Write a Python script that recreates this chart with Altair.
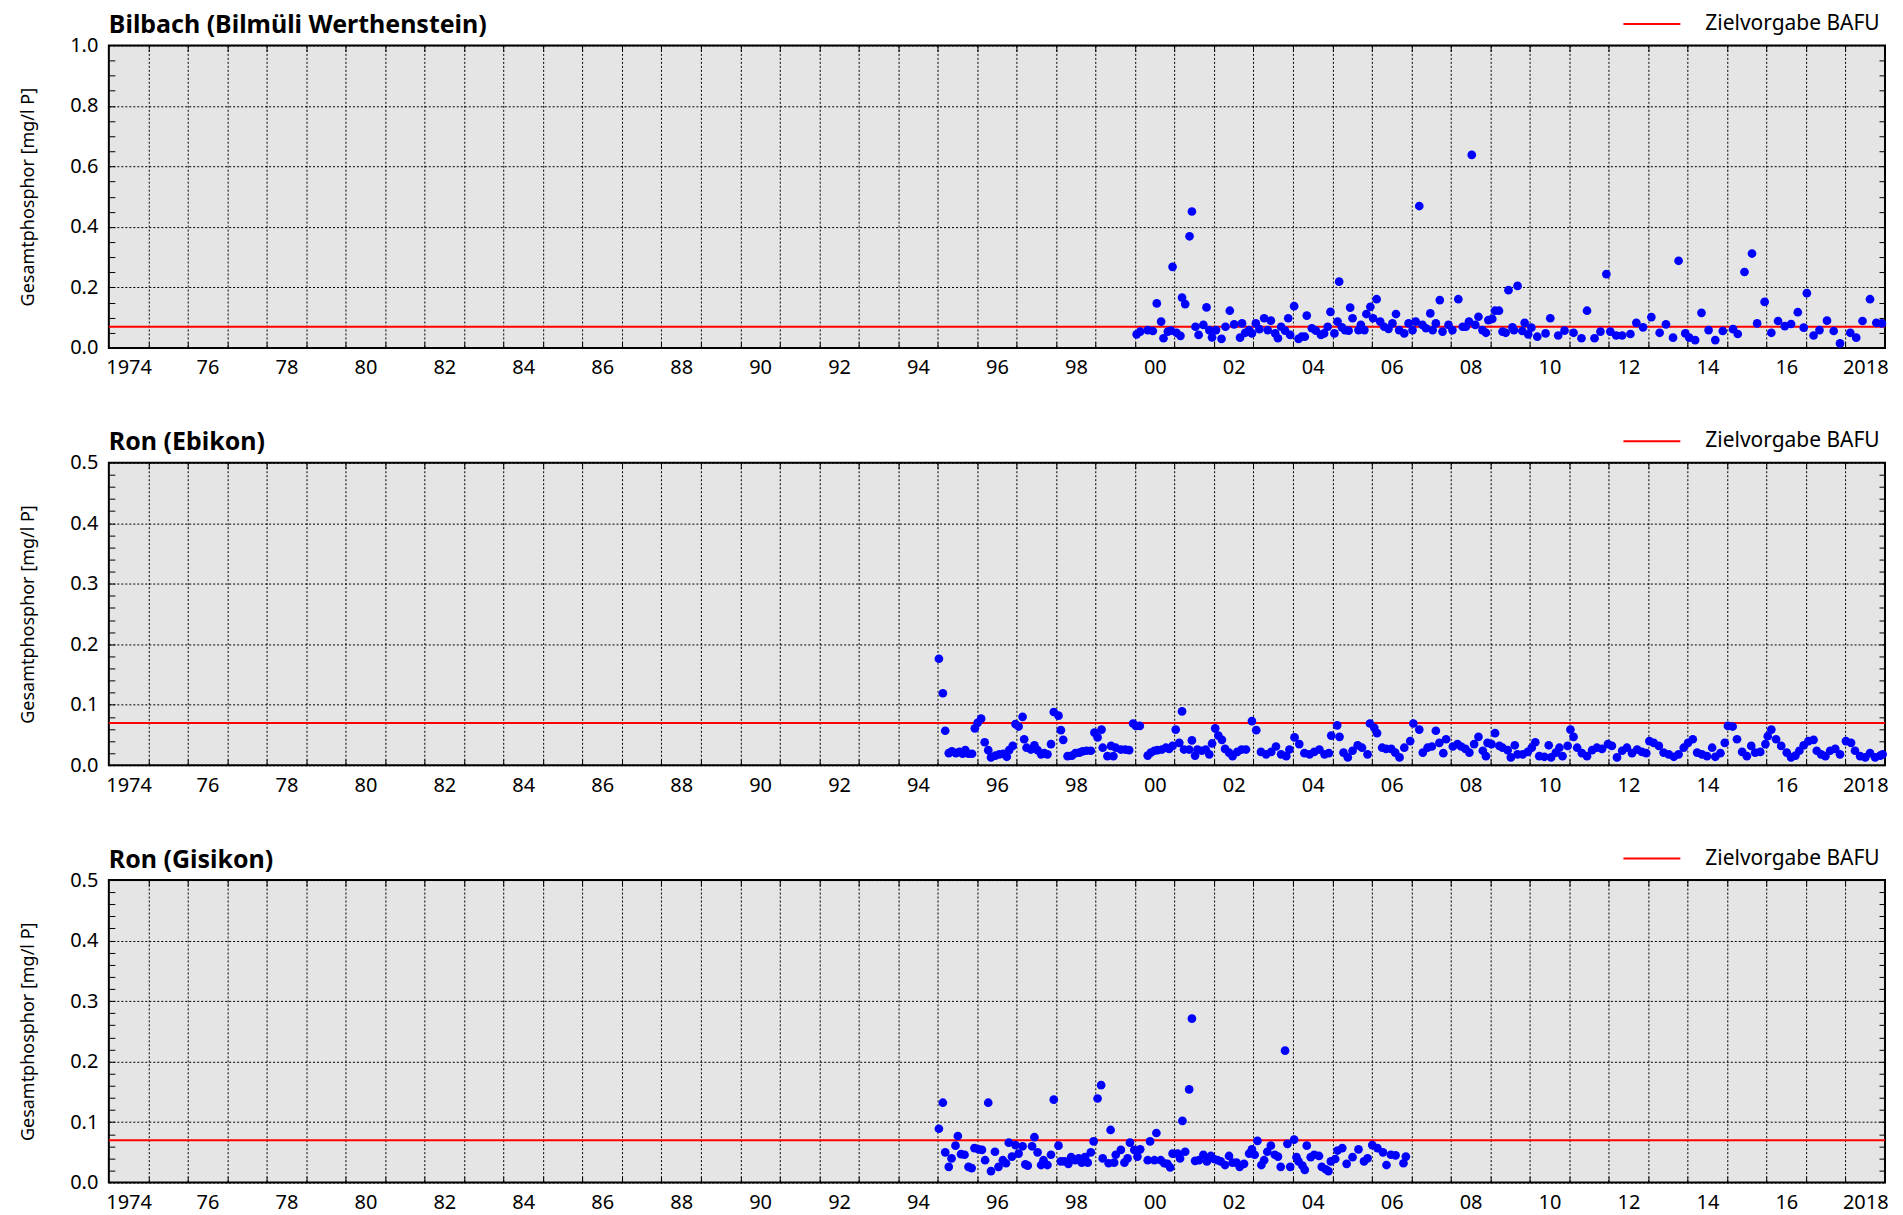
import altair as alt
import pandas as pd

FONT = "Noto Sans"
W, H = 1779, 303

x_start, x_end = 1974, 2019
year_lines = list(range(1975, 2019))
label_years = [y + 0.5 for y in range(1974, 2019, 2)]

target_value = 0.07
target_label = "Zielvorgabe BAFU"
y_title = "Gesamtphosphor [mg/l P]"

titles = ["Bilbach (Bilmüli Werthenstein)", "Ron (Ebikon)", "Ron (Gisikon)"]

# ---------------- Bilbach (Bilmüli Werthenstein) ----------------
bil_year = [
    2000.04, 2000.13, 2000.32, 2000.45, 2000.55, 2000.66, 2000.72, 2000.83, 2000.91, 2000.95,
    2001.05, 2001.15, 2001.19, 2001.27, 2001.38, 2001.44, 2001.53, 2001.61, 2001.73, 2001.81, 2001.88, 2001.95,
    2002.05, 2002.19, 2002.29, 2002.40, 2002.51, 2002.66, 2002.71, 2002.79, 2002.89, 2002.96,
    2003.06, 2003.15, 2003.27, 2003.36, 2003.44, 2003.55, 2003.62, 2003.70, 2003.80, 2003.88, 2003.93,
    2004.03, 2004.14, 2004.22, 2004.30, 2004.35, 2004.48, 2004.58, 2004.71, 2004.79, 2004.88, 2004.95,
    2005.05, 2005.13, 2005.17, 2005.24, 2005.32, 2005.41, 2005.45, 2005.51, 2005.66, 2005.72, 2005.81, 2005.86, 2005.96,
    2006.03, 2006.12, 2006.21, 2006.31, 2006.42, 2006.52, 2006.61, 2006.69, 2006.82, 2006.93,
    2007.03, 2007.11, 2007.20, 2007.28, 2007.37, 2007.48, 2007.54, 2007.62, 2007.72, 2007.79, 2007.94,
    2008.04, 2008.19, 2008.30, 2008.38, 2008.46, 2008.53, 2008.62, 2008.70, 2008.80, 2008.89, 2008.95,
    2009.05, 2009.12, 2009.22, 2009.31, 2009.39, 2009.46, 2009.56, 2009.60, 2009.69, 2009.81, 2009.87, 2009.96,
    2010.04, 2010.19, 2010.40, 2010.52, 2010.72, 2010.88,
    2011.11, 2011.31, 2011.45, 2011.64, 2011.79, 2011.94,
    2012.04, 2012.19, 2012.34, 2012.55, 2012.70, 2012.87,
    2013.08, 2013.29, 2013.45, 2013.63, 2013.77, 2013.94,
    2014.04, 2014.19, 2014.35, 2014.53, 2014.70, 2014.89,
    2015.15, 2015.27, 2015.44, 2015.63, 2015.76, 2015.95,
    2016.12, 2016.29, 2016.46, 2016.62, 2016.79, 2016.94,
    2017.02, 2017.19, 2017.34, 2017.53, 2017.70, 2017.86,
    2018.12, 2018.27, 2018.43, 2018.62, 2018.78, 2018.92,
]
bil_tp = [
    0.045, 0.054, 0.059, 0.056, 0.147, 0.087, 0.032, 0.054, 0.057, 0.268,
    0.050, 0.040, 0.166, 0.145, 0.369, 0.451, 0.070, 0.043, 0.076, 0.134, 0.059, 0.035,
    0.059, 0.030, 0.070, 0.123, 0.078, 0.034, 0.081, 0.050, 0.059, 0.048,
    0.081, 0.062, 0.098, 0.059, 0.090, 0.048, 0.032, 0.070, 0.057, 0.098, 0.043,
    0.138, 0.030, 0.037, 0.037, 0.107, 0.065, 0.057, 0.043, 0.048, 0.070, 0.119,
    0.048, 0.087, 0.219, 0.068, 0.059, 0.057, 0.133, 0.098, 0.059, 0.076, 0.059, 0.112, 0.136,
    0.098, 0.161, 0.087, 0.070, 0.063, 0.081, 0.112, 0.059, 0.048, 0.081,
    0.059, 0.087, 0.469, 0.076, 0.065, 0.114, 0.059, 0.081, 0.158, 0.054, 0.076,
    0.059, 0.161, 0.070, 0.070, 0.087, 0.638, 0.076, 0.103, 0.059, 0.050, 0.092,
    0.096, 0.123, 0.123, 0.054, 0.050, 0.191, 0.068, 0.059, 0.205, 0.056, 0.083, 0.045,
    0.067, 0.037, 0.048, 0.098, 0.041, 0.057,
    0.050, 0.032, 0.123, 0.032, 0.054, 0.244,
    0.054, 0.041, 0.041, 0.046, 0.083, 0.068,
    0.102, 0.050, 0.078, 0.034, 0.288, 0.048,
    0.034, 0.026, 0.116, 0.059, 0.026, 0.056,
    0.062, 0.046, 0.251, 0.312, 0.081, 0.152,
    0.050, 0.089, 0.072, 0.079, 0.118, 0.067,
    0.181, 0.041, 0.059, 0.090, 0.056, 0.015,
    0.050, 0.034, 0.089, 0.161, 0.083, 0.081,
]

# ---------------- Ron (Ebikon) ----------------
ebi_year = [
    1995.03, 1995.13, 1995.19, 1995.28, 1995.36, 1995.46, 1995.55, 1995.63, 1995.70, 1995.78, 1995.87, 1995.94,
    1996.01, 1996.10, 1996.19, 1996.28, 1996.35, 1996.46, 1996.56, 1996.66, 1996.75, 1996.81, 1996.90, 1996.97,
    1997.05, 1997.15, 1997.19, 1997.25, 1997.36, 1997.45, 1997.53, 1997.62, 1997.70, 1997.78, 1997.87, 1997.94,
    1998.06, 1998.12, 1998.18, 1998.29, 1998.40, 1998.49, 1998.59, 1998.67, 1998.77, 1998.88, 1998.97,
    1999.05, 1999.15, 1999.18, 1999.30, 1999.39, 1999.45, 1999.51, 1999.64, 1999.75, 1999.85, 1999.95,
    2000.02, 2000.12, 2000.32, 2000.40, 2000.49, 2000.57, 2000.68, 2000.78, 2000.86, 2000.95,
    2001.03, 2001.12, 2001.19, 2001.24, 2001.37, 2001.44, 2001.52, 2001.58, 2001.69, 2001.79, 2001.88, 2001.95,
    2002.03, 2002.11, 2002.20, 2002.28, 2002.38, 2002.47, 2002.59, 2002.70, 2002.81, 2002.96,
    2003.07, 2003.19, 2003.32, 2003.45, 2003.57, 2003.70, 2003.83, 2003.91,
    2004.04, 2004.16, 2004.29, 2004.42, 2004.54, 2004.67, 2004.80, 2004.91, 2004.97,
    2005.12, 2005.18, 2005.28, 2005.39, 2005.51, 2005.64, 2005.75, 2005.89, 2005.95,
    2006.06, 2006.13, 2006.26, 2006.36, 2006.49, 2006.59, 2006.70, 2006.82, 2006.97,
    2007.05, 2007.20, 2007.29, 2007.41, 2007.52, 2007.62, 2007.71, 2007.81, 2007.88,
    2008.05, 2008.17, 2008.26, 2008.37, 2008.47, 2008.59, 2008.70, 2008.81, 2008.89, 2008.93,
    2009.03, 2009.12, 2009.23, 2009.31, 2009.44, 2009.52, 2009.62, 2009.69, 2009.82, 2009.95,
    2010.05, 2010.14, 2010.24, 2010.37, 2010.48, 2010.54, 2010.66, 2010.75, 2010.83, 2010.96,
    2011.03, 2011.11, 2011.20, 2011.32, 2011.45, 2011.58, 2011.70, 2011.83, 2011.98,
    2012.08, 2012.21, 2012.34, 2012.46, 2012.59, 2012.72, 2012.84, 2012.95,
    2013.03, 2013.14, 2013.27, 2013.39, 2013.52, 2013.65, 2013.77, 2013.90,
    2014.01, 2014.13, 2014.24, 2014.36, 2014.49, 2014.62, 2014.70, 2014.83, 2014.94,
    2015.02, 2015.14, 2015.25, 2015.38, 2015.50, 2015.61, 2015.71, 2015.84, 2015.97,
    2016.03, 2016.12, 2016.24, 2016.37, 2016.51, 2016.62, 2016.73, 2016.83, 2016.94,
    2017.06, 2017.19, 2017.27, 2017.38, 2017.49, 2017.61, 2017.74, 2017.86,
    2018.01, 2018.14, 2018.24, 2018.37, 2018.50, 2018.62, 2018.75, 2018.88, 2018.94,
]
ebi_tp = [
    0.176, 0.119, 0.057, 0.020, 0.023, 0.020, 0.022, 0.019, 0.025, 0.019, 0.019, 0.061,
    0.070, 0.077, 0.038, 0.025, 0.013, 0.016, 0.018, 0.019, 0.014, 0.025, 0.032, 0.068,
    0.064, 0.080, 0.043, 0.029, 0.026, 0.033, 0.025, 0.018, 0.020, 0.018, 0.035, 0.088,
    0.082, 0.058, 0.042, 0.015, 0.016, 0.020, 0.021, 0.023, 0.024, 0.024, 0.054,
    0.046, 0.059, 0.029, 0.015, 0.032, 0.015, 0.029, 0.026, 0.026, 0.025, 0.069,
    0.065, 0.065, 0.016, 0.021, 0.024, 0.025, 0.026, 0.029, 0.027, 0.032,
    0.059, 0.037, 0.089, 0.026, 0.026, 0.041, 0.016, 0.026, 0.024, 0.026, 0.018, 0.036,
    0.061, 0.049, 0.042, 0.027, 0.021, 0.015, 0.022, 0.026, 0.026, 0.073,
    0.058, 0.022, 0.018, 0.022, 0.031, 0.018, 0.015, 0.026,
    0.046, 0.035, 0.020, 0.018, 0.022, 0.026, 0.018, 0.020, 0.049,
    0.066, 0.047, 0.021, 0.013, 0.024, 0.033, 0.029, 0.018, 0.069,
    0.062, 0.053, 0.029, 0.027, 0.027, 0.021, 0.013, 0.029, 0.040,
    0.069, 0.059, 0.021, 0.029, 0.031, 0.057, 0.037, 0.020, 0.043,
    0.031, 0.035, 0.031, 0.027, 0.021, 0.035, 0.047, 0.024, 0.015, 0.037,
    0.035, 0.053, 0.032, 0.029, 0.025, 0.013, 0.033, 0.018, 0.018, 0.022,
    0.029, 0.038, 0.015, 0.014, 0.033, 0.013, 0.021, 0.029, 0.015, 0.032,
    0.059, 0.047, 0.029, 0.020, 0.015, 0.025, 0.029, 0.027, 0.035,
    0.032, 0.013, 0.024, 0.029, 0.020, 0.026, 0.022, 0.020,
    0.040, 0.037, 0.032, 0.021, 0.018, 0.014, 0.018, 0.029,
    0.037, 0.043, 0.021, 0.018, 0.015, 0.029, 0.014, 0.020, 0.037,
    0.065, 0.064, 0.043, 0.022, 0.015, 0.032, 0.021, 0.022, 0.035,
    0.048, 0.059, 0.043, 0.032, 0.021, 0.013, 0.016, 0.024, 0.033,
    0.040, 0.042, 0.024, 0.018, 0.015, 0.024, 0.027, 0.018,
    0.040, 0.037, 0.024, 0.015, 0.013, 0.020, 0.013, 0.016, 0.018,
]

# ---------------- Ron (Gisikon) ----------------
gis_year = [
    1995.03, 1995.13, 1995.19, 1995.28, 1995.35, 1995.45, 1995.51, 1995.59, 1995.68, 1995.78, 1995.86, 1995.93,
    1996.04, 1996.12, 1996.20, 1996.28, 1996.35, 1996.45, 1996.54, 1996.65, 1996.73, 1996.80, 1996.88, 1996.97,
    1997.05, 1997.15, 1997.22, 1997.28, 1997.39, 1997.45, 1997.53, 1997.62, 1997.68, 1997.78, 1997.87, 1997.94,
    1998.06, 1998.12, 1998.21, 1998.31, 1998.38, 1998.48, 1998.57, 1998.65, 1998.73, 1998.80, 1998.88, 1998.95,
    1999.05, 1999.14, 1999.18, 1999.33, 1999.38, 1999.47, 1999.51, 1999.64, 1999.73, 1999.81, 1999.87, 1999.98,
    2000.06, 2000.13, 2000.32, 2000.38, 2000.49, 2000.54, 2000.65, 2000.74, 2000.82, 2000.89, 2000.95,
    2001.08, 2001.14, 2001.20, 2001.27, 2001.37, 2001.44, 2001.52, 2001.62, 2001.73, 2001.82, 2001.92,
    2002.00, 2002.09, 2002.17, 2002.28, 2002.38, 2002.47, 2002.57, 2002.65, 2002.76, 2002.89, 2002.96,
    2003.03, 2003.10, 2003.20, 2003.27, 2003.35, 2003.44, 2003.54, 2003.62, 2003.69, 2003.80, 2003.86, 2003.93,
    2004.03, 2004.09, 2004.14, 2004.24, 2004.30, 2004.35, 2004.45, 2004.54, 2004.66, 2004.73, 2004.83, 2004.90, 2004.96,
    2005.07, 2005.13, 2005.25, 2005.36, 2005.51, 2005.66, 2005.80, 2005.89,
    2006.01, 2006.14, 2006.28, 2006.37, 2006.48, 2006.60, 2006.80, 2006.86,
]
gis_tp = [
    0.089, 0.132, 0.050, 0.026, 0.040, 0.061, 0.077, 0.047, 0.046, 0.026, 0.024, 0.057,
    0.055, 0.054, 0.037, 0.132, 0.019, 0.051, 0.026, 0.037, 0.032, 0.066, 0.043, 0.062,
    0.048, 0.060, 0.030, 0.028, 0.060, 0.075, 0.050, 0.029, 0.037, 0.029, 0.046, 0.137,
    0.061, 0.035, 0.035, 0.031, 0.042, 0.037, 0.040, 0.033, 0.042, 0.033, 0.050, 0.068,
    0.139, 0.161, 0.040, 0.032, 0.087, 0.033, 0.046, 0.054, 0.033, 0.040, 0.066, 0.054,
    0.043, 0.055, 0.037, 0.068, 0.037, 0.082, 0.037, 0.032, 0.031, 0.025, 0.048,
    0.048, 0.040, 0.102, 0.051, 0.154, 0.271, 0.036, 0.037, 0.046, 0.035, 0.044,
    0.039, 0.037, 0.035, 0.029, 0.044, 0.033, 0.033, 0.026, 0.031, 0.048, 0.055,
    0.046, 0.069, 0.029, 0.037, 0.051, 0.061, 0.046, 0.043, 0.026, 0.218, 0.064, 0.026,
    0.071, 0.042, 0.035, 0.028, 0.021, 0.061, 0.042, 0.046, 0.044, 0.026, 0.022, 0.019, 0.035,
    0.039, 0.053, 0.057, 0.031, 0.042, 0.055, 0.035, 0.040,
    0.062, 0.057, 0.050, 0.029, 0.046, 0.045, 0.032, 0.043,
]

assert len(bil_year) == len(bil_tp)
assert len(ebi_year) == len(ebi_tp)
assert len(gis_year) == len(gis_tp)

LABEL_EXPR = ("floor(datum.value) == 1974 || floor(datum.value) == 2018 ? "
              "toString(floor(datum.value)) : substring(toString(floor(datum.value)), 2, 4)")

GRID_DASH = [2, 2]


def panel(title, years, tp, ymax, major_step, minor_step):
    df = pd.DataFrame({"year": years, "tp": tp})
    major = [round(i * major_step, 3) for i in range(int(round(ymax / major_step)) + 1)]
    minor = [round(i * minor_step, 3) for i in range(1, int(round(ymax / minor_step)))]
    xs = alt.Scale(domain=[x_start, x_end], nice=False, zero=False)
    ys = alt.Scale(domain=[0, ymax], nice=False, zero=True)
    base = alt.Chart(df)

    def xe(axis):
        return alt.X("year:Q", scale=xs, axis=axis)

    def ye(axis):
        return alt.Y("tp:Q", scale=ys, axis=axis)

    tick_common = dict(labels=False, grid=False, domain=False, ticks=True,
                       tickSize=6, tickColor="black", tickWidth=1, title=None)

    grid_layer = base.mark_point(opacity=0).encode(
        x=xe(alt.Axis(orient="bottom", values=year_lines, grid=True, gridColor="black",
                      gridDash=GRID_DASH, gridWidth=1, gridOpacity=1, labels=False, ticks=False,
                      domain=False, title=None)),
        y=ye(alt.Axis(orient="right", offset=-W, values=minor, **tick_common)),
    )
    tick_layer = base.mark_point(opacity=0).encode(
        x=xe(alt.Axis(orient="top", offset=-H, values=year_lines, **tick_common)),
        y=ye(alt.Axis(orient="left", offset=-W, values=minor, **tick_common)),
    )
    tick_layer2 = base.mark_point(opacity=0).encode(
        x=xe(alt.Axis(orient="bottom", offset=-H, values=year_lines, **tick_common)),
        y=ye(None),
    )
    rule = alt.Chart(pd.DataFrame({"label": [target_label], "value": [target_value]})).mark_rule(
        strokeWidth=2
    ).encode(
        y=alt.Y("value:Q", scale=ys, axis=None),
        color=alt.Color(
            "label:N",
            scale=alt.Scale(domain=[target_label], range=["#ff0000"]),
            legend=alt.Legend(title=None, orient="none", legendX=1516, legendY=-31.5,
                              symbolType="stroke", symbolSize=3249, symbolStrokeWidth=2,
                              clipHeight=20, labelFont=FONT, labelFontSize=21, labelLimit=0,
                              labelColor="black", labelOffset=24, padding=0),
        ),
    )
    points = base.mark_circle(size=76, color="#0000ff", opacity=1).encode(
        x=xe(alt.Axis(orient="bottom", values=label_years, labelExpr=LABEL_EXPR,
                      labelFlush=False, ticks=False, grid=False, domain=False,
                      labelPadding=10, title=None)),
        y=ye(alt.Axis(orient="left", values=major, format=".1f", grid=True, gridColor="black",
                      gridDash=GRID_DASH, gridWidth=1, gridOpacity=1, ticks=False, domain=False,
                      labelPadding=11, title=y_title, titlePadding=32)),
    )
    return alt.layer(grid_layer, tick_layer, tick_layer2, rule, points).resolve_axis(
        x="independent", y="independent"
    ).properties(
        width=W, height=H,
        title=alt.TitleParams(text=title, anchor="start", frame="group", font=FONT,
                              fontSize=25, fontWeight="bold", color="black", offset=0, dy=24),
    )


p1 = panel(titles[0], bil_year, bil_tp, 1.0, 0.2, 0.05)
p2 = panel(titles[1], ebi_year, ebi_tp, 0.5, 0.1, 0.02)
p3 = panel(titles[2], gis_year, gis_tp, 0.5, 0.1, 0.02)

chart = alt.vconcat(p1, p2, p3, spacing=50).resolve_legend(color="independent").resolve_scale(
    color="independent"
).properties(
    padding={"left": 10, "top": 2.5, "right": 5, "bottom": 0}
).configure_view(
    fill="#e5e5e5", stroke="black", strokeWidth=2
).configure_axis(
    labelFont=FONT, labelFontSize=20, labelColor="black",
    titleFont=FONT, titleFontSize=18, titleFontWeight="normal", titleColor="black",
)

chart.save("out.html", embed_options={"renderer": "svg", "actions": False})
